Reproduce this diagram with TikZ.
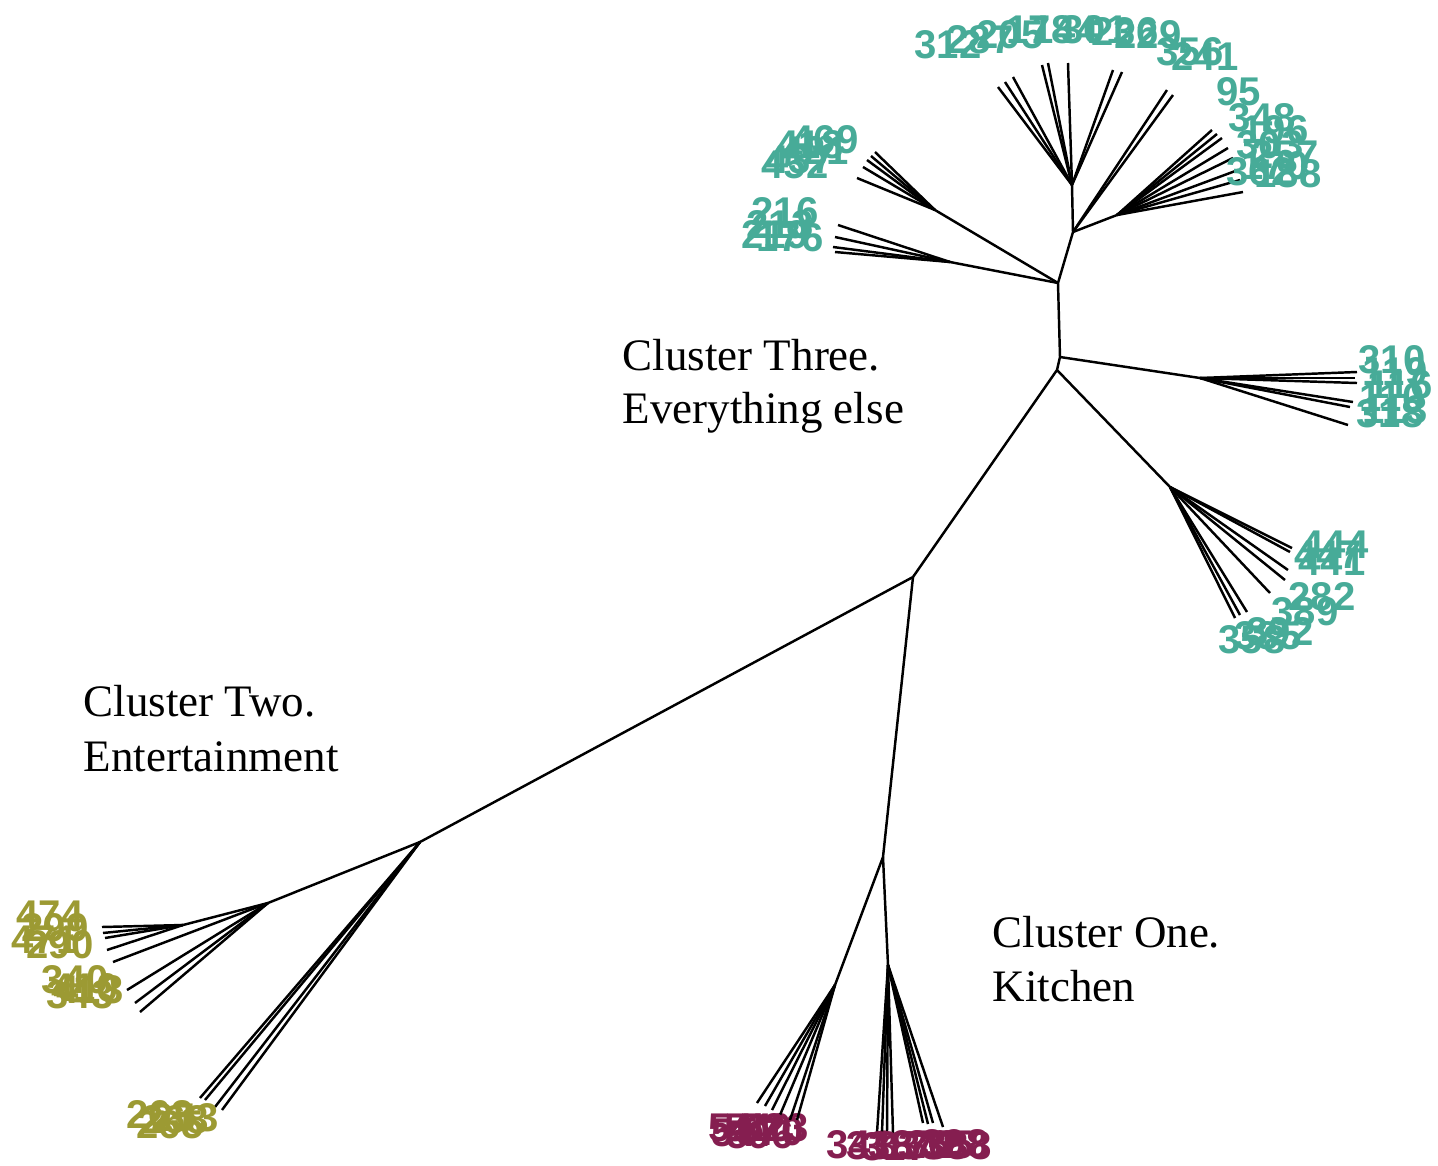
\documentclass[tikz,border=0pt]{standalone}
\usepackage{fontspec}
\setmainfont{Liberation Serif}
\newfontfamily\leaffont{Liberation Sans}
\definecolor{tealc}{HTML}{47AB98}
\definecolor{olivec}{HTML}{9C9A33}
\definecolor{maroonc}{HTML}{851E50}

\begin{document}
\begin{tikzpicture}[x=0.01cm,y=-0.01cm]
    \tikzstyle{branch}=[line width=0.7pt];
    \tikzstyle{leaflbl}=[inner sep=0pt,font=\leaffont\bfseries\fontsize{11.4}{11.4}\selectfont];
    \tikzstyle{clusterlbl}=[inner sep=0pt,anchor=base west,font=\fontsize{12.8}{15.6}\selectfont];
    \useasboundingbox (0,0) rectangle (1438,1166);

    % inner nodes of the tree
    \coordinate (n1) at (1058,283);
    \coordinate (nB) at (1060,357);
    \coordinate (n3) at (1057,370);
    \coordinate (n2) at (1073,232);
    \coordinate (n4) at (913,577);
    \coordinate (n5) at (420,842);
    \coordinate (n6) at (883,857);
    \coordinate (ft) at (1072,185);
    \coordinate (fr1) at (1117,215);
    \coordinate (fl1) at (935,210);
    \coordinate (fl2) at (950,262);
    \coordinate (fr2) at (1200,378);
    \coordinate (fr3) at (1170,487);
    \coordinate (f7) at (268,903);
    \coordinate (f7a) at (183,925);
    \coordinate (f9) at (835,985);
    \coordinate (f10) at (888,965);

    \draw[branch] (n1) -- (nB) -- (n3) -- (n4);
    \draw[branch] (n1) -- (n2) -- (ft);
    \draw[branch] (n2) -- (fr1);
    \draw[branch] (n1) -- (fl1);
    \draw[branch] (n1) -- (fl2);
    \draw[branch] (nB) -- (fr2);
    \draw[branch] (n3) -- (fr3);
    \draw[branch] (n4) -- (n5) -- (f7) -- (f7a);
    \draw[branch] (n4) -- (n6) -- (f9);
    \draw[branch] (n6) -- (f10);

    % cluster three
    \foreach \tx/\ty/\lx/\ly/\t in {998/87/948/45/312, 1005/82/980/40/287, 1013/77/1010/35/205,
        1042/65/1040/30/178, 1048/63/1065/30/144, 1068/63/1095/30/301, 1113/70/1125/32/236,
        1122/72/1148/35/229}{
        \coordinate (tt\t) at (\tx,\ty);
        \draw[branch] (ft) -- (tt\t);
        \node[leaflbl,text=tealc] (lt\t) at (\lx,\ly) {\t};
    }
    \foreach \tx/\ty/\lx/\ly/\t in {1167/90/1190/52/356, 1173/95/1205/56/241}{
        \coordinate (tt\t) at (\tx,\ty);
        \draw[branch] (n2) -- (tt\t);
        \node[leaflbl,text=tealc] (lt\t) at (\lx,\ly) {\t};
    }
    \foreach \tx/\ty/\lx/\ly/\t in {1212/130/1239/92/95, 1217/134/1262/118/348, 1222/138/1275/130/196,
        1228/148/1270/145/303, 1233/158/1285/155/257, 1238/170/1275/166/170,
        1240/180/1260/172/362, 1243/192/1288/174/188}{
        \coordinate (tr\t) at (\tx,\ty);
        \draw[branch] (fr1) -- (tr\t);
        \node[leaflbl,text=tealc] (lr\t) at (\lx,\ly) {\t};
    }
    \foreach \tx/\ty/\lx/\ly/\t in {875/152/825/140/469, 871/156/810/145/418, 867/160/815/150/421,
        863/167/800/160/437, 857/178/795/165/452}{
        \coordinate (tl\t) at (\tx,\ty);
        \draw[branch] (fl1) -- (tl\t);
        \node[leaflbl,text=tealc] (ll\t) at (\lx,\ly) {\t};
    }
    \foreach \tx/\ty/\lx/\ly/\t in {838/225/785/212/216, 835/237/780/225/213,
        833/247/775/235/219, 835/252/790/238/176}{
        \coordinate (tl\t) at (\tx,\ty);
        \draw[branch] (fl2) -- (tl\t);
        \node[leaflbl,text=tealc] (ll\t) at (\lx,\ly) {\t};
    }
    \foreach \tx/\ty/\lx/\ly/\t in {1357/372/1392/360/310, 1355/378/1395/372/119, 1357/383/1400/385/116,
        1353/402/1392/398/110, 1350/407/1395/410/113, 1348/425/1390/414/318}{
        \coordinate (tr\t) at (\tx,\ty);
        \draw[branch] (fr2) -- (tr\t);
        \node[leaflbl,text=tealc] (lr\t) at (\lx,\ly) {\t};
    }
    \foreach \tx/\ty/\lx/\ly/\t in {1292/548/1335/545/444, 1290/552/1328/555/447, 1288/570/1332/562/441,
        1285/580/1322/597/282, 1270/593/1305/612/389, 1247/612/1268/636/385,
        1240/615/1252/640/358, 1235/618/1280/632/392}{
        \coordinate (tr\t) at (\tx,\ty);
        \draw[branch] (fr3) -- (tr\t);
        \node[leaflbl,text=tealc] (lr\t) at (\lx,\ly) {\t};
    }

    % cluster two
    \foreach \tx/\ty/\lx/\ly/\t in {102/927/50/915/474, 103/933/55/928/299,
        105/938/45/940/471, 107/950/60/945/290}{
        \coordinate (te\t) at (\tx,\ty);
        \draw[branch] (f7a) -- (te\t);
        \node[leaflbl,text=olivec] (le\t) at (\lx,\ly) {\t};
    }
    \foreach \tx/\ty/\lx/\ly/\t in {113/962/75/980/340, 127/990/85/988/410,
        135/1003/80/995/343, 140/1012/90/990/413}{
        \coordinate (te\t) at (\tx,\ty);
        \draw[branch] (f7) -- (te\t);
        \node[leaflbl,text=olivec] (le\t) at (\lx,\ly) {\t};
    }
    \foreach \tx/\ty/\lx/\ly/\t in {200/1098/160/1115/263, 205/1100/175/1120/268,
        215/1107/185/1118/253, 222/1110/170/1125/265}{
        \coordinate (te\t) at (\tx,\ty);
        \draw[branch] (n5) -- (te\t);
        \node[leaflbl,text=olivec] (le\t) at (\lx,\ly) {\t};
    }

    % cluster one
    \foreach \tx/\ty/\lx/\ly/\t in {757/1103/742/1128/541, 765/1106/758/1128/510, 772/1110/770/1132/570,
        780/1115/775/1128/523, 790/1120/760/1135/596, 797/1120/745/1133/547}{
        \coordinate (tk\t) at (\tx,\ty);
        \draw[branch] (f9) -- (tk\t);
        \node[leaflbl,text=maroonc] (lk\t) at (\lx,\ly) {\t};
    }
    \foreach \tx/\ty/\lx/\ly/\t in {877/1133/860/1145/341, 882/1133/880/1146/338, 887/1133/895/1147/317,
        893/1133/910/1146/333, 923/1123/925/1145/372, 928/1124/940/1145/365,
        933/1123/955/1144/398, 943/1127/958/1146/388}{
        \coordinate (tk\t) at (\tx,\ty);
        \draw[branch] (f10) -- (tk\t);
        \node[leaflbl,text=maroonc] (lk\t) at (\lx,\ly) {\t};
    }

    % cluster names
    \node[clusterlbl] (c3a) at (622,370) {Cluster Three.};
    \node[clusterlbl] (c3b) at (622,423) {Everything else};
    \node[clusterlbl] (c2a) at (83,716) {Cluster Two.};
    \node[clusterlbl] (c2b) at (83,771) {Entertainment};
    \node[clusterlbl] (c1a) at (992,947) {Cluster One.};
    \node[clusterlbl] (c1b) at (992,1001) {Kitchen};
\end{tikzpicture}
\end{document}
